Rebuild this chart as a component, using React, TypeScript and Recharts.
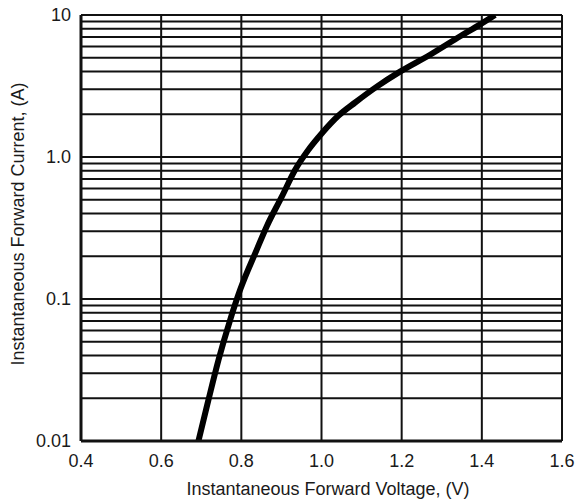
import { CartesianGrid, Label, Line, LineChart, XAxis, YAxis } from 'recharts'

// forward voltage (V) vs instantaneous forward current (A)
const voltage = [0.693, 0.718, 0.743, 0.772, 0.797, 0.838, 0.863, 0.901, 0.934, 0.967, 1.001, 1.042, 1.084, 1.138, 1.196, 1.271, 1.346, 1.395, 1.433]
const current = [0.01, 0.0195, 0.0372, 0.0711, 0.116, 0.221, 0.323, 0.526, 0.81, 1.12, 1.47, 1.95, 2.42, 3.13, 3.99, 5.25, 7.08, 8.55, 10]

const xTicks = [0.4, 0.6, 0.8, 1.0, 1.2, 1.4, 1.6]
const yTicks = [
  0.01, 0.02, 0.03, 0.04, 0.05, 0.06, 0.07, 0.08, 0.09,
  0.1, 0.2, 0.3, 0.4, 0.5, 0.6, 0.7, 0.8, 0.9,
  1, 2, 3, 4, 5, 6, 7, 8, 9,
  10,
]
const yLabels: Record<number, string> = { 0.01: '0.01', 0.1: '0.1', 1: '1.0', 10: '10' }

const data = voltage.map((v, i) => ({ v, i: current[i] }))

const FONT = '"Liberation Sans", Arial, sans-serif'
const INK = '#111'

export default function App() {
  return (
    <div style={{ position: 'absolute', left: 0, top: 0, background: '#fff' }}>
      <LineChart width={580} height={502} data={data} margin={{ top: 15, right: 18, left: 0, bottom: 0 }}>
        <CartesianGrid stroke={INK} strokeWidth={2} />
        <XAxis
          dataKey="v"
          type="number"
          domain={[0.4, 1.6]}
          ticks={xTicks}
          tickFormatter={(t: number) => t.toFixed(1)}
          height={61}
          tickSize={0}
          tickMargin={13}
          axisLine={{ stroke: INK, strokeWidth: 3 }}
          tick={{ fill: '#1a1a1a', fontSize: 18, fontFamily: FONT }}
          interval={0}
        >
          <Label
            content={() => (
              <text x={328} y={495} textAnchor="middle" fill="#1a1a1a" fontSize={18} fontFamily={FONT}>
                Instantaneous Forward Voltage, (V)
              </text>
            )}
          />
        </XAxis>
        <YAxis
          dataKey="i"
          scale="log"
          type="number"
          domain={[0.01, 10]}
          allowDataOverflow
          ticks={yTicks}
          tickFormatter={(t: number) => yLabels[t] ?? ''}
          width={81}
          tickSize={0}
          tickMargin={10}
          axisLine={{ stroke: INK, strokeWidth: 3 }}
          tick={{ fill: '#1a1a1a', fontSize: 18, fontFamily: FONT }}
          interval={0}
        >
          <Label
            content={() => (
              <text
                x={18}
                y={224}
                transform="rotate(-90 18 224)"
                textAnchor="middle"
                dominantBaseline="central"
                fill="#1a1a1a"
                fontSize={18}
                fontFamily={FONT}
              >
                Instantaneous Forward Current, (A)
              </text>
            )}
          />
        </YAxis>
        <Line
          dataKey="i"
          type="monotone"
          stroke="#000"
          strokeWidth={6}
          dot={false}
          isAnimationActive={false}
        />
      </LineChart>
    </div>
  )
}
